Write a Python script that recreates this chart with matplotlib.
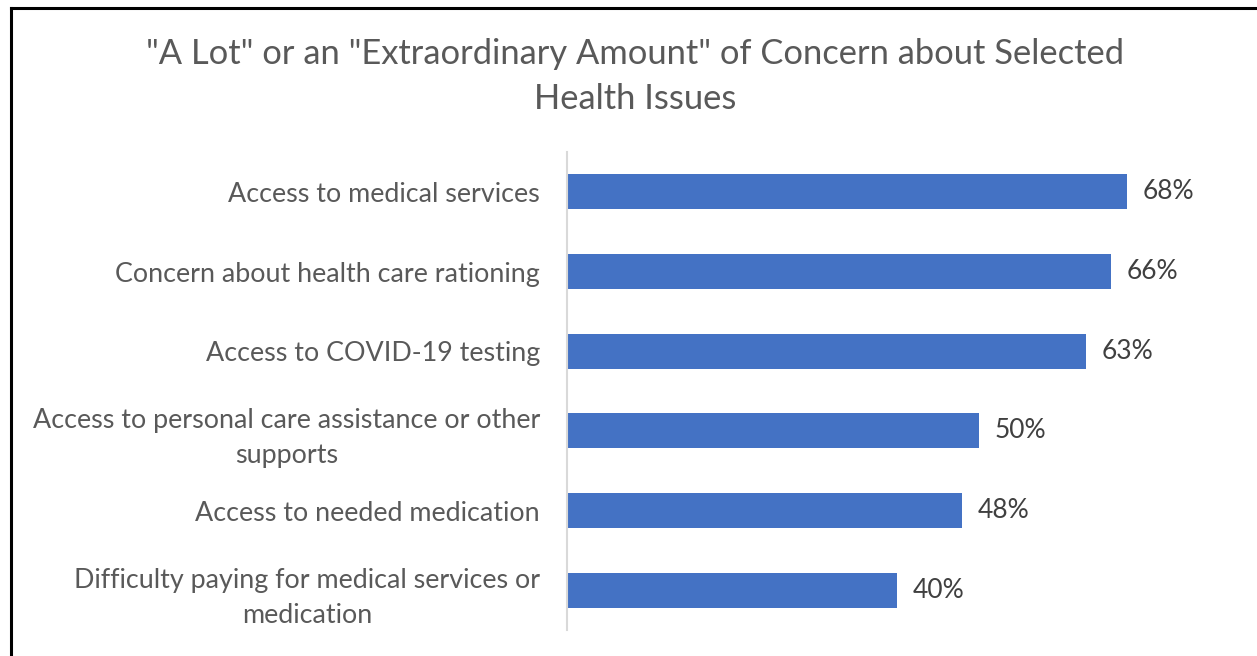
import matplotlib.pyplot as plt
from matplotlib.lines import Line2D

categories = [
    "Access to medical services",
    "Concern about health care rationing",
    "Access to COVID-19 testing",
    "Access to personal care assistance or other\nsupports",
    "Access to needed medication",
    "Difficulty paying for medical services or\nmedication",
]
values = [68, 66, 63, 50, 48, 40]
title = '"A Lot" or an "Extraordinary Amount" of Concern about Selected\nHealth Issues'

plt.rcParams['font.family'] = ['Lato', 'DejaVu Sans']

fig = plt.figure(figsize=(12.57, 6.56), dpi=100)
ax = fig.add_axes([0.4511, 0.0396, 0.5243, 0.7287])

ypos = list(range(len(categories)))
ax.barh(ypos, values, height=0.44, color='#4472C4')
ax.set_ylim(len(categories) - 0.5, -0.5)
ax.set_xlim(0, 80)

ax.set_yticks(ypos)
ax.set_yticklabels(categories, fontsize=19.4, color='#595959',
                   linespacing=1.5, multialignment='center')
ax.tick_params(axis='y', length=0, pad=19.5)
ax.set_xticks([])

for s in ['top', 'right', 'bottom']:
    ax.spines[s].set_visible(False)
ax.spines['left'].set_color('#D9D9D9')
ax.spines['left'].set_linewidth(1.5)

# value labels at the bar ends
for y, v in zip(ypos, values):
    ax.text(v + 1.9, y, f'{v}%', va='center', ha='left',
            fontsize=19, color='#404040')

fig.text(0.505, 0.883, title, ha='center', va='center', fontsize=24.8,
         color='#595959', linespacing=1.5)

# frame lines along top and left
fig.add_artist(Line2D([11 / 1257, 1], [1 - 8 / 656, 1 - 8 / 656],
                      color='black', lw=2.2, transform=fig.transFigure))
fig.add_artist(Line2D([11 / 1257, 11 / 1257], [0, 1 - 8 / 656],
                      color='black', lw=2.2, transform=fig.transFigure))

fig.savefig('out.png', dpi=100)
